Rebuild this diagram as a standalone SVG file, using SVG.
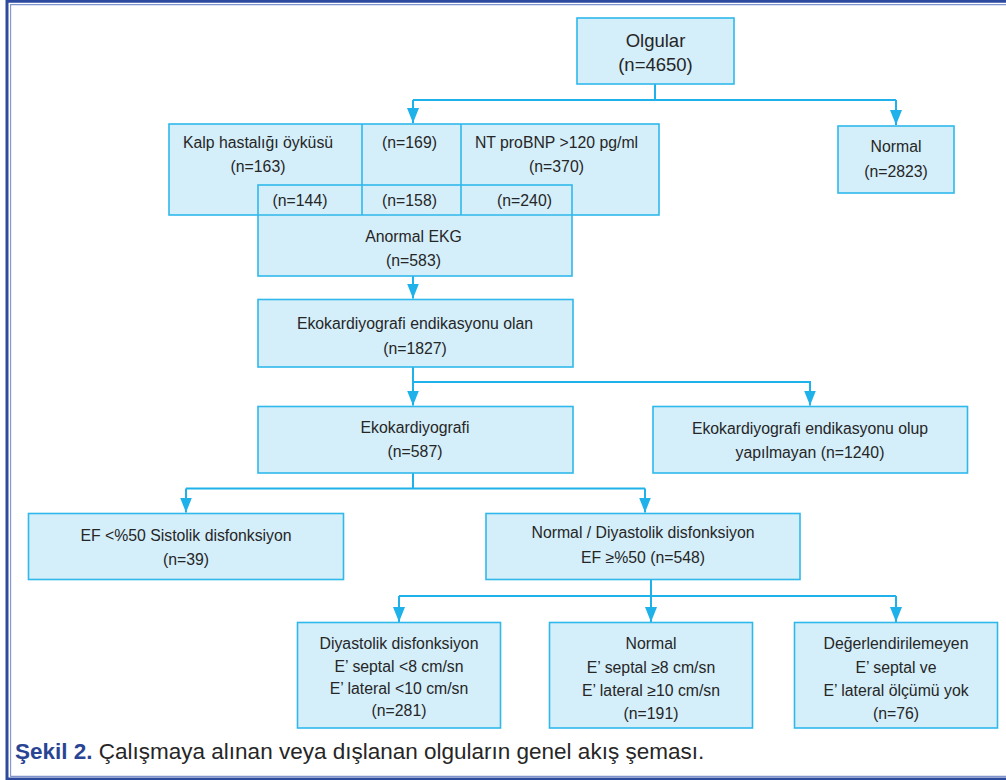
<svg xmlns="http://www.w3.org/2000/svg" width="1006" height="780" viewBox="0 0 1006 780">
<defs>
<style>
.box{fill:#d4eefa;stroke:#2fb8ec;stroke-width:1.6}
.ln{fill:none;stroke:#2fb8ec;stroke-width:1.6}
.conn{fill:none;stroke:#1fb1ea;stroke-width:2}
.t{font-family:"Liberation Sans",Arial,sans-serif;font-size:15.8px;fill:#262626;text-anchor:middle}
.big{font-size:18.5px}
.cap{font-family:"Liberation Sans",Arial,sans-serif;font-size:22.5px;fill:#262626}
</style>
<marker id="ah" markerWidth="15" markerHeight="12" refX="15" refY="6" orient="auto" markerUnits="userSpaceOnUse" viewBox="0 0 15 12">
<path d="M0,0 L15,6 L0,12 Z" fill="#1fb1ea"/>
</marker>
</defs>
<rect width="1006" height="780" fill="#ffffff"/>
<g id="frame">
<path d="M1010,1.3 H7 V779 H1010" fill="none" stroke="#2e4a9e" stroke-width="3"/>
<path d="M1010,4.6 H10.6 V776.4 H1010" fill="none" stroke="#7f93cc" stroke-width="1.1"/>
</g>
<g id="connectors">
<path class="conn" d="M655,84 V100 M413,100 H896"/>
<path class="conn" d="M413,100 V123" marker-end="url(#ah)"/>
<path class="conn" d="M896,100 V125" marker-end="url(#ah)"/>
<path class="conn" d="M413,276 V298.5" marker-end="url(#ah)"/>
<path class="conn" d="M413,367 V405.5" marker-end="url(#ah)"/>
<path class="conn" d="M413,382 H810 V405.5" marker-end="url(#ah)"/>
<path class="conn" d="M413,473 V488.5 M186,488.5 H645"/>
<path class="conn" d="M186,488.5 V512.5" marker-end="url(#ah)"/>
<path class="conn" d="M645,488.5 V512.5" marker-end="url(#ah)"/>
<path class="conn" d="M651,579 V596 M399,596 H896"/>
<path class="conn" d="M399,596 V622" marker-end="url(#ah)"/>
<path class="conn" d="M651,596 V622" marker-end="url(#ah)"/>
<path class="conn" d="M896,596 V622" marker-end="url(#ah)"/>
</g>
<g id="olgular">
<rect class="box" x="577" y="18" width="157" height="66"/>
<text class="t big" x="655.5" y="46.5">Olgular</text>
<text class="t big" x="655.5" y="70.5">(n=4650)</text>
</g>
<g id="normal-top">
<rect class="box" x="838" y="126" width="116" height="67"/>
<text class="t" x="896" y="152">Normal</text>
<text class="t" x="896" y="176.5">(n=2823)</text>
</g>
<g id="risk-groups">
<rect class="box" x="169" y="124" width="490" height="91"/>
<rect class="box" x="258" y="185" width="314" height="91"/>
<path class="ln" d="M258,215 H572 M362,124 V215 M461,124 V215"/>
<text class="t" x="258" y="147.5">Kalp hastalığı öyküsü</text>
<text class="t" x="258" y="172">(n=163)</text>
<text class="t" x="409.5" y="147.5">(n=169)</text>
<text class="t" x="556.5" y="147.5">NT proBNP &gt;120 pg/ml</text>
<text class="t" x="556.5" y="172">(n=370)</text>
<text class="t" x="300" y="205.5">(n=144)</text>
<text class="t" x="409.5" y="205.5">(n=158)</text>
<text class="t" x="524.5" y="205.5">(n=240)</text>
<text class="t" x="413.5" y="242">Anormal EKG</text>
<text class="t" x="413.5" y="265.5">(n=583)</text>
</g>
<g id="endikasyon">
<rect class="box" x="258" y="299.5" width="315" height="67.5"/>
<text class="t" x="415" y="329">Ekokardiyografi endikasyonu olan</text>
<text class="t" x="415" y="354">(n=1827)</text>
</g>
<g id="eko">
<rect class="box" x="258" y="406.5" width="315" height="66.5"/>
<text class="t" x="415" y="433">Ekokardiyografi</text>
<text class="t" x="415" y="457">(n=587)</text>
</g>
<g id="yapilmayan">
<rect class="box" x="653" y="406.5" width="314.5" height="66.5"/>
<text class="t" x="810" y="434">Ekokardiyografi endikasyonu olup</text>
<text class="t" x="810" y="458">yapılmayan (n=1240)</text>
</g>
<g id="sistolik">
<rect class="box" x="28.5" y="513.5" width="315" height="66"/>
<text class="t" x="186" y="540.5">EF &lt;%50 Sistolik disfonksiyon</text>
<text class="t" x="186" y="565">(n=39)</text>
</g>
<g id="normal-diyastolik">
<rect class="box" x="486" y="513.5" width="314" height="66"/>
<text class="t" x="643" y="538">Normal / Diyastolik disfonksiyon</text>
<text class="t" x="643" y="562.5">EF ≥%50 (n=548)</text>
</g>
<g id="diyastolik">
<rect class="box" x="297.5" y="622.5" width="203" height="105.5"/>
<text class="t" x="399" y="649">Diyastolik disfonksiyon</text>
<text class="t" x="399" y="671.5">E’ septal &lt;8 cm/sn</text>
<text class="t" x="399" y="694">E’ lateral &lt;10 cm/sn</text>
<text class="t" x="399" y="716">(n=281)</text>
</g>
<g id="normal-bottom">
<rect class="box" x="549.5" y="622.5" width="203" height="105.5"/>
<text class="t" x="651" y="649">Normal</text>
<text class="t" x="651" y="672.5">E’ septal ≥8 cm/sn</text>
<text class="t" x="651" y="696">E’ lateral ≥10 cm/sn</text>
<text class="t" x="651" y="719">(n=191)</text>
</g>
<g id="degerlendirilemeyen">
<rect class="box" x="794.5" y="622.5" width="203" height="105.5"/>
<text class="t" x="896" y="649">Değerlendirilemeyen</text>
<text class="t" x="896" y="672.5">E’ septal ve</text>
<text class="t" x="896" y="696">E’ lateral ölçümü yok</text>
<text class="t" x="896" y="719">(n=76)</text>
</g>
<g id="caption">
<text class="cap" x="15" y="758.5"><tspan font-weight="bold" fill="#2a4494">Şekil 2.</tspan> Çalışmaya alınan veya dışlanan olguların genel akış şeması.</text>
</g>
</svg>
